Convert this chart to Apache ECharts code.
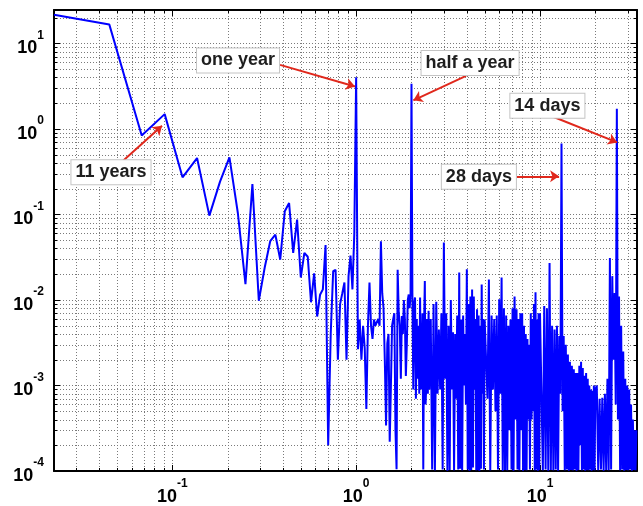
<!DOCTYPE html>
<html><head><meta charset="utf-8">
<script src="https://cdn.jsdelivr.net/npm/echarts@6/dist/echarts.min.js"></script>
<style>html,body{margin:0;padding:0;background:#fff}#c{width:643px;height:506px}</style>
</head><body><div id="c"></div>
<script>
// frequency resolution (cycles per year): f = k / 44
const FREQ_DIV = 44;
// power for k = 1..88 (f up to 2 cycles/year)
const lowPower = [21.7, 16.6, 0.84, 1.49, 0.272, 0.457, 0.097, 0.242, 0.464, 0.104,
 0.0153, 0.227, 0.0098, 0.024, 0.0487, 0.058, 0.0297, 0.109, 0.136, 0.0356,
 0.087, 0.0183, 0.0356, 0.032, 0.0094, 0.0205, 0.0064, 0.0115, 0.0133, 0.044,
 0.0002, 0.004, 0.0217, 0.0225, 0.002, 0.009, 0.012, 0.016, 0.002, 0.019,
 0.033, 0.0133, 0.06, 4.03, 0.00265, 0.0059, 0.002, 0.005, 0.0027, 0.00053,
 0.005, 0.016, 0.005, 0.0035, 0.0059, 0.005, 0.005, 0.006, 0.005, 0.0486,
 0.012, 0.008, 0.002, 0.00034, 0.0031, 0.004, 0.00022, 0.00099, 0.005, 0.006,
 0.007, 0.0003, 0.000105, 0.0225, 0.0072, 0.005, 0.0012, 0.0065, 0.004, 0.01,
 0.006, 0.00129, 0.003, 0.01, 0.0116, 0.008, 0.012, 3.37];
// k = 89..110
const powerK89 = [0.012, 0.0009, 0.009, 0.0107, 0.0007, 0.006, 0.0012, 0.005, 0.0008, 0.0107,
 0.0009, 0.002, 0.007, 0.000104, 0.005, 0.0167, 0.0006, 0.0011, 0.006, 0.0008, 0.0075, 0.0009];
// k = 112..220 step 2
const powerK112 = [0.006, 0.000104, 0.009, 0.000102, 0.0095, 0.0008, 0.0045, 0.0009, 0.007, 0.000104,
 0.047, 0.0012, 0.007, 0.000101, 0.005, 0.000103, 0.010, 0.0009, 0.0042, 0.000102,
 0.004, 0.0007, 0.0066, 0.000104, 0.021, 0.000106, 0.0059, 0.000102, 0.0066, 0.001,
 0.004, 0.0006, 0.0228, 0.000104, 0.009, 0.000101, 0.011, 0.000103, 0.0133, 0.00011,
 0.011, 0.0009, 0.006, 0.000102, 0.0078, 0.000103, 0.0066, 0.000101, 0.005, 0.000106,
 0.0152, 0.0008, 0.006, 0.000104, 0.0059];
// k = 224..440 step 4
const powerK224 = [0.006, 0.0007, 0.0174, 0.000102, 0.0066, 0.0009, 0.006, 0.0005, 0.0066, 0.000104,
 0.0102, 0.0008, 0.0183, 0.000101, 0.008, 0.000103, 0.0066, 0.000102, 0.005, 0.0003,
 0.0059, 0.000104, 0.008, 0.000101, 0.011, 0.0004, 0.0078, 0.000104, 0.006, 0.000102,
 0.007, 0.0003, 0.007, 0.000101, 0.005, 0.000103, 0.004, 0.000102, 0.0035, 0.0004,
 0.003, 0.000104, 0.007, 0.0004, 0.006, 0.0005, 0.009, 0.000102, 0.0123, 0.000104,
 0.0059, 0.000101, 0.007, 0.000103, 0.007];
// k = 448..880 step 8
const powerK448 = [0.007, 0.000102, 0.0085, 0.000104, 0.008, 0.000101, 0.027, 0.000103, 0.005, 0.000102,
 0.0045, 0.000104, 0.005, 0.000101, 0.0038, 0.0008, 0.675, 0.0005, 0.0038, 0.000102,
 0.003, 0.000104, 0.0023, 0.000101, 0.0019, 0.000103, 0.0017, 0.000102, 0.00155, 0.000104,
 0.0014, 0.000101, 0.0014, 0.000103, 0.0017, 0.0002, 0.0019, 0.000102, 0.0016, 0.000104,
 0.0013, 0.000101, 0.0014, 0.000103, 0.0012, 0.000102, 0.001, 0.000104, 0.0009, 0.000101,
 0.00087, 0.000103, 0.001, 0.000102, 0.0009];
// k = 896..1472 step 16
const powerK896 = [0.001, 0.000102, 0.0007, 0.000104, 0.00072, 0.000101, 0.0008, 0.000103, 0.0012, 0.000102,
 0.031, 0.000104, 0.019, 0.002, 0.0121, 0.0006, 1.72, 0.0004, 0.011, 0.000102,
 0.005, 0.000104, 0.0025, 0.000101, 0.0012, 0.000103, 0.001, 0.000102, 0.0009, 0.000104,
 0.0006, 0.000101, 0.0004, 0.000103, 0.0003, 0.000102, 0.0003];

const xMajorTicks = [0.1, 1, 10];
const yMajorTicks = [1e-4, 1e-3, 1e-2, 1e-1, 1, 10];
const xMinorTicks = [0.03,0.04,0.05,0.06,0.07,0.08,0.09,0.2,0.3,0.4,0.5,0.6,0.7,0.8,0.9,2,3,4,5,6,7,8,9,20,30];
const yMinorTicks = [2e-4,3e-4,4e-4,5e-4,6e-4,7e-4,8e-4,9e-4,
 2e-3,3e-3,4e-3,5e-3,6e-3,7e-3,8e-3,9e-3,
 0.02,0.03,0.04,0.05,0.06,0.07,0.08,0.09,
 0.2,0.3,0.4,0.5,0.6,0.7,0.8,0.9,
 2,3,4,5,6,7,8,9,20];

const lineData = [];
function addSegment(startK, step, values) {
  values.forEach((v, i) => lineData.push([(startK + i * step) / FREQ_DIV, v]));
}
addSegment(1, 1, lowPower);
addSegment(89, 1, powerK89);
addSegment(112, 2, powerK112);
addSegment(224, 4, powerK224);
addSegment(448, 8, powerK448);
addSegment(896, 16, powerK896);

const gridData = xMinorTicks.map(v => [v, 1, 0]).concat(yMinorTicks.map(v => [1, v, 1]));

const FONT = "'Liberation Sans', Arial, Helvetica, sans-serif";
const GRID_COLOR = '#7a7a7a';
const RED = '#e0281c';

function isMajor(v, list) {
  return list.some(t => Math.abs(Math.log10(v) - Math.log10(t)) < 1e-6);
}
function powLabel(list) {
  return function (v) {
    if (!isMajor(v, list)) return '';
    return '{b|10}{s|' + Math.round(Math.log10(v)) + '}';
  };
}
const rich = {
  b: {fontFamily: FONT, fontSize: 18, fontWeight: 'bold', color: '#000', lineHeight: 28, verticalAlign: 'bottom'},
  s: {fontFamily: FONT, fontSize: 12, fontWeight: 'bold', color: '#000', verticalAlign: 'top'}
};

const X_MIN = 1 / FREQ_DIV, X_MAX = 33.7, Y_MIN = 1e-4, Y_MAX = 24.6;

function baseAxis(extra) {
  return Object.assign({
    type: 'log', logBase: 10,
    axisLine: {show: true, lineStyle: {color: '#000', width: 2}},
    axisTick: {show: true, inside: true, length: 6, lineStyle: {color: '#000', width: 1}},
    splitLine: {show: false},
    minorTick: {show: false},
    minorSplitLine: {show: false}
  }, extra);
}

function renderGrid(params, api) {
  const cs = params.coordSys;
  const gridStyle = {stroke: GRID_COLOR, lineWidth: 1, lineDash: [1, 2]};
  const tickStyle = {stroke: '#000', lineWidth: 1};
  if (api.value(2) === 0) {
    const x = Math.round(api.coord([api.value(0), 1])[0]) + 0.5;
    const y0 = cs.y, y1 = cs.y + cs.height;
    return {type: 'group', silent: true, children: [
      {type: 'line', shape: {x1: x, y1: y0, x2: x, y2: y1}, style: gridStyle},
      {type: 'line', shape: {x1: x, y1: y1, x2: x, y2: y1 - 3}, style: tickStyle},
      {type: 'line', shape: {x1: x, y1: y0, x2: x, y2: y0 + 3}, style: tickStyle}
    ]};
  }
  const y = Math.round(api.coord([1, api.value(1)])[1]) + 0.5;
  const x0 = cs.x, x1 = cs.x + cs.width;
  return {type: 'group', silent: true, children: [
    {type: 'line', shape: {x1: x0, y1: y, x2: x1, y2: y}, style: gridStyle},
    {type: 'line', shape: {x1: x0, y1: y, x2: x0 + 3, y2: y}, style: tickStyle},
    {type: 'line', shape: {x1: x1, y1: y, x2: x1 - 3, y2: y}, style: tickStyle}
  ]};
}

const annotations = [
  {text: 'one year',    box: [0.2278, 6.33],  from: [0.3855, 5.61],  to: [0.9863, 3.13]},
  {text: 'half a year', box: [4.166, 5.92],   from: [3.963, 4.18],   to: [2.048, 2.162]},
  {text: '14 days',     box: [10.97, 1.865],  from: [11.79, 1.388],  to: [26.27, 0.696]},
  {text: '28 days',     box: [4.652, 0.2768], from: [7.478, 0.2792], to: [12.70, 0.2792]},
  {text: '11 years',    box: [0.0464, 0.3125],from: [0.05326, 0.4143], to: [0.0879, 1.09]}
];

const chart = echarts.init(document.getElementById('c'), null, {renderer: 'canvas'});
chart.setOption({
  animation: false,
  backgroundColor: '#fff',
  grid: {left: 54, right: 6, top: 10, bottom: 34},
  xAxis: [
    baseAxis({min: X_MIN, max: X_MAX, position: 'bottom',
      splitLine: {show: true, lineStyle: {color: GRID_COLOR, width: 1, type: [1, 2]}},
      axisLabel: {show: true, margin: 7, formatter: powLabel(xMajorTicks), rich: rich}}),
    baseAxis({min: X_MIN, max: X_MAX, position: 'top', axisLabel: {show: false}})
  ],
  yAxis: [
    baseAxis({min: Y_MIN, max: Y_MAX, position: 'left',
      splitLine: {show: true, lineStyle: {color: GRID_COLOR, width: 1, type: [1, 2]}},
      axisLabel: {show: true, margin: 10, formatter: powLabel(yMajorTicks), rich: rich}}),
    baseAxis({min: Y_MIN, max: Y_MAX, position: 'right', axisLabel: {show: false}})
  ],
  series: [
    {
      type: 'custom', xAxisIndex: 0, yAxisIndex: 0, z: 1, silent: true,
      renderItem: renderGrid, data: gridData, encode: {x: 0, y: 1}, clip: false
    },
    {
      type: 'line', xAxisIndex: 0, yAxisIndex: 0, z: 3,
      data: lineData, showSymbol: false, symbol: 'none', smooth: false,
      lineStyle: {color: '#0000ff', width: 2}, itemStyle: {color: '#0000ff'},
      clip: true, silent: true,
      markLine: {
        silent: true, symbol: ['none', 'arrow'], symbolSize: 9,
        label: {show: false},
        lineStyle: {color: RED, width: 2, type: 'solid'},
        data: annotations.map(a => [{coord: a.from}, {coord: a.to}])
      },
      markPoint: {
        silent: true, symbol: 'rect', symbolSize: 1,
        itemStyle: {color: 'rgba(0,0,0,0)'},
        label: {show: true, position: 'inside', formatter: '{b}',
          fontFamily: FONT, fontSize: 18, fontWeight: 'bold', color: '#1e1e1e',
          backgroundColor: '#fff', borderColor: '#c4c4c4', borderWidth: 1,
          padding: [2, 4, 1, 4], lineHeight: 21},
        data: annotations.map(a => ({name: a.text, coord: a.box}))
      }
    }
  ]
});
</script></body></html>
